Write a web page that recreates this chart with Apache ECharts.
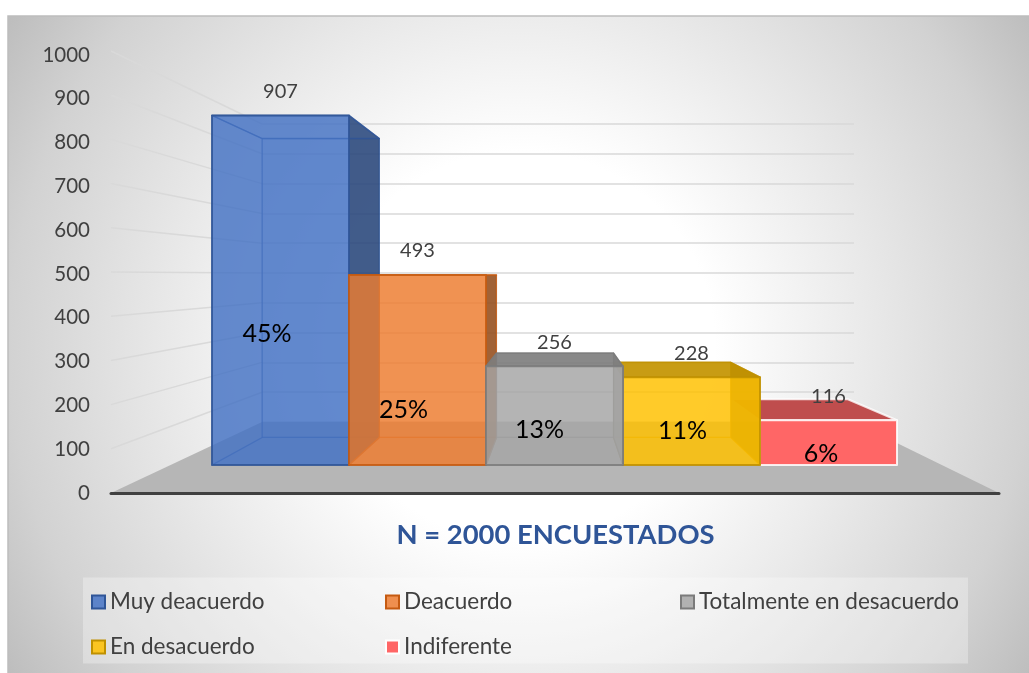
<!DOCTYPE html>
<html><head><meta charset="utf-8">
<style>html,body{margin:0;padding:0;background:#fff}#c{width:1029px;height:673px}</style>
<script src="https://cdn.jsdelivr.net/npm/echarts@6/dist/echarts.min.js"></script>
</head><body><div id="c"></div>
<script>
const categories = ['Muy deacuerdo','Deacuerdo','Totalmente en desacuerdo','En desacuerdo','Indiferente'];
const values = [907,493,256,228,116];
const percents = ['45%','25%','13%','11%','6%'];
const tickValues = [100,200,300,400,500,600,700,800,900,1000];
const chartTitle = 'N = 2000 ENCUESTADOS';

// styling and layout (kept apart from the data)
const baseRGB = [[68,114,196],[237,125,49],[165,165,165],[255,192,0],[255,102,102]];
const edgeColors = ['#2F5597','#C55A11','#7B7B7B','#BF9000','#FFFFFF'];
const frontAlpha = [.8,.8,.8,.8,1];
const backAlpha = [.2,.2,.2,.2,0];
const drawOrder = [2,3,6,5,4];
const pctOffset = [[-13.5,-131],[-14,-55],[-15,-35],[-9,-34],[-7.5,-11]];
const legendPos = [[91,590.5],[385,590.5],[680,590.5],[91,635.5],[385,635.5]];
const FONT = 'Lato, "Liberation Sans", sans-serif';
const VP = [558,275], K = .855;

const chart = echarts.init(document.getElementById('c'));
const back = p => [VP[0]+K*(p[0]-VP[0]), VP[1]+K*(p[1]-VP[1])];
const rgba = (c,a,s=1) => `rgba(${c.map(v=>Math.round(v*s)).join(',')},${a})`;

function barItem(i){
  return function(params, api){
    const cx = api.coord([api.value(0),0])[0];
    const w = api.size([1,0])[0];
    const base = api.coord([api.value(0),0])[1];
    const topY = api.coord([api.value(0),api.value(1)])[1];
    const FL=[cx-w/2,topY], FR=[cx+w/2,topY], BL=[cx-w/2,base], BR=[cx+w/2,base];
    const fl=back(FL), fr=back(FR), bl=back(BL), br=back(BR);
    const c=baseRGB[i], e=edgeColors[i];
    const face=(pts,fill,strokeW=1.5,op=.75)=>({type:'polygon',silent:true,shape:{points:pts},
      style:{fill,stroke:e,lineWidth:strokeW,opacity:1,strokeOpacity:op,lineJoin:'round'}});
    const underside = fl[1] > FL[1];
    const topFill = i===4 ? rgba(c,1,.75) : (underside ? rgba(c,.12,.78) : rgba(c,.9,.76));
    const ch=[
      face([fl,fr,br,bl],rgba(c,backAlpha[i]), i===4?0:1.2,.45),
      face([BL,BR,br,bl],rgba(c,backAlpha[i]), i===4?0:1.2,.45),
      face([FL,fl,bl,BL],rgba(c,i===4?0:.1,.85), i===4?1.5:1.2,.45),
      face([FR,fr,br,BR],i===4?rgba(c,0):rgba(c,.87,i===2?.9:.62), i===4?0:1.2,.7),
      face([FL,FR,fr,fl],topFill, i===4?2:1.5,.8),
      face([FL,FR,BR,BL],rgba(c,frontAlpha[i]),2,.85),
      {type:'text',silent:true,z2:50,style:{text:String(api.value(1)),x:cx,y:topY-24,align:'center',verticalAlign:'middle',
        font:'20px '+FONT,fill:'#404040'}},
      {type:'text',silent:true,z2:50,style:{text:percents[i],x:cx+pctOffset[i][0],y:base+pctOffset[i][1],align:'center',verticalAlign:'middle',
        font:'25px '+FONT,fill:'#000'}}
    ];
    return {type:'group',children:ch};
  };
}

const series = [
  {type:'custom',name:'sideWall',coordinateSystem:'cartesian2d',xAxisIndex:3,yAxisIndex:3,silent:true,z:1,
   data:tickValues.map(v=>[0,v]),
   renderItem(p,api){
     const a=api.coord([0,api.value(1)]);
     const b=chart.convertToPixel({gridIndex:2},[0,api.value(1)]);
     return {type:'line',shape:{x1:a[0],y1:a[1],x2:b[0],y2:b[1]},style:{stroke:'#d9d9d9',lineWidth:1.5}};
   }},
  {type:'custom',name:'floor',coordinateSystem:'cartesian2d',xAxisIndex:3,yAxisIndex:3,silent:true,z:1,
   data:[[0,0]],
   renderItem(p,api){
     const l=api.coord([0,0]), r=api.coord([1,0]);
     const bl=chart.convertToPixel({gridIndex:2},[0,0]), br=chart.convertToPixel({gridIndex:2},[1,0]);
     return {type:'polygon',shape:{points:[l,bl,br,r]},style:{fill:'#b6b6b6'}};
   }}
];
categories.forEach((name,i)=>{
  series.push({type:'custom',name,coordinateSystem:'cartesian2d',xAxisIndex:1,yAxisIndex:1,silent:true,z:drawOrder[i],
    itemStyle:{color:rgba(baseRGB[i],1)},
    data:[[name,values[i]]],encode:{x:0,y:1},renderItem:barItem(i)});
});

chart.setOption({
  animation:false,
  graphic:[
    {type:'rect',silent:true,z:-10,shape:{x:8,y:16,width:1024,height:660},
     style:{stroke:'#bdbdbd',lineWidth:1.5,fill:{type:'radial',x:.5,y:.5,r:.92,colorStops:[
       {offset:0,color:'#ffffff'},{offset:.32,color:'#ffffff'},{offset:.6,color:'#e7e7e7'},{offset:.84,color:'#d2d2d2'},{offset:1,color:'#bdbdbd'}]}}},
    {type:'rect',silent:true,z:-9,shape:{x:83,y:577.5,width:885,height:86},style:{fill:'rgba(255,255,255,.3)'}}
  ],
  title:{text:chartTitle,left:550.5,top:517,textAlign:'center',textStyle:{fontFamily:FONT,fontWeight:'bold',fontSize:27.4,color:'#2F5597'}},
  legend:categories.map((name,i)=>({
    data:[name],left:legendPos[i][0],top:legendPos[i][1],selectedMode:false,padding:0,
    icon:'rect',itemWidth:13,itemHeight:13,
    itemStyle:{color:rgba(baseRGB[i],i===4?1:.85),borderColor:edgeColors[i],borderWidth:2},
    textStyle:{fontFamily:FONT,fontSize:22.5,color:'#404040'}
  })),
  grid:[
    {left:90,width:10,top:55,height:438},
    {left:212,width:685,top:79.6,height:385.4},
    {left:262,width:592,top:124,height:298},
    {left:111,width:888,top:51,height:442}
  ],
  xAxis:[
    {gridIndex:0,type:'value',show:false},
    {gridIndex:1,type:'category',data:categories,show:false},
    {gridIndex:2,type:'value',min:0,max:1,show:false},
    {gridIndex:3,type:'value',min:0,max:1,axisLabel:{show:false},axisTick:{show:false},splitLine:{show:false},
     axisLine:{show:true,lineStyle:{color:'#404040',width:3}},z:20}
  ],
  yAxis:[
    {gridIndex:0,type:'value',min:0,max:1000,interval:100,axisLine:{show:false},axisTick:{show:false},splitLine:{show:false},
     axisLabel:{margin:0,fontFamily:FONT,fontSize:20.5,color:'#404040',formatter:v=>String(v)}},
    {gridIndex:1,type:'value',min:0,max:1000,show:false},
    {gridIndex:2,type:'value',min:0,max:1000,interval:100,axisLine:{show:false},axisTick:{show:false},axisLabel:{show:false},
     splitLine:{show:true,lineStyle:{color:'#d9d9d9',width:1.5}}},
    {gridIndex:3,type:'value',min:0,max:1000,show:false}
  ],
  series
});
</script></body></html>
